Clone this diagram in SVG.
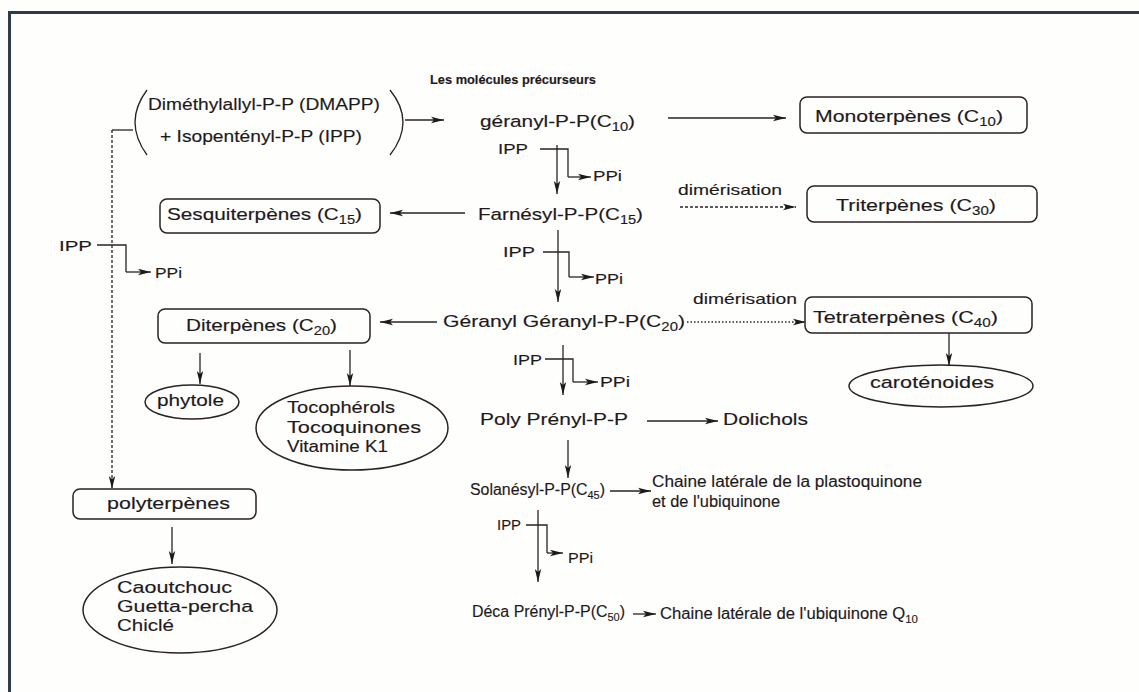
<svg xmlns="http://www.w3.org/2000/svg" width="1139" height="692" viewBox="0 0 1139 692">
<defs>
<marker id="ah" markerUnits="userSpaceOnUse" markerWidth="14" markerHeight="8" refX="13" refY="4" orient="auto">
<path d="M0,0.8 L13,4 L0,7.2 L3,4 Z" fill="#1e1a1c"/>
</marker>
<style>
text{font-family:"Liberation Sans",Arial,sans-serif;fill:#1e1a1c;font-size:17px;stroke:#1e1a1c;stroke-width:0.15}
.t{font-weight:bold;font-size:13px}
.s{font-size:15px}
.m{font-size:16px}
.box{fill:none;stroke:#2a2224;stroke-width:1.5}
.ln{fill:none;stroke:#2a2224;stroke-width:1.3}
.ar{fill:none;stroke:#2a2224;stroke-width:1.3;marker-end:url(#ah)}
.dash{stroke-dasharray:3 2}
.dot{stroke-dasharray:1.5 2}
</style>
</defs>
<rect x="0" y="0" width="1139" height="692" fill="#fefefc"/>
<rect x="9.5" y="12.5" width="1200" height="720" fill="none" stroke="#2f3a4b" stroke-width="3"/>

<text id="title" class="t" x="430" y="84" textLength="166" lengthAdjust="spacingAndGlyphs">Les molécules précurseurs</text>

<g id="precursors">
<path class="ln" d="M147,90 Q123,122 147,155"/>
<path class="ln" d="M390,90 Q416,122 390,155"/>
<text x="148" y="110" textLength="232" lengthAdjust="spacingAndGlyphs">Diméthylallyl-P-P (DMAPP)</text>
<text x="160" y="142" textLength="202" lengthAdjust="spacingAndGlyphs">+ Isopentényl-P-P (IPP)</text>
</g>

<g id="geranyl"><text x="480" y="127" textLength="155" lengthAdjust="spacingAndGlyphs">géranyl-P-P(C<tspan font-size="12" dy="4">10</tspan><tspan dy="-4">)</tspan></text></g>
<g id="monoterpenes"><rect class="box" x="800" y="97" width="227" height="36" rx="7"/><text x="815" y="122" textLength="188" lengthAdjust="spacingAndGlyphs">Monoterpènes (C<tspan font-size="12" dy="4">10</tspan><tspan dy="-4">)</tspan></text></g>
<g id="farnesyl"><text x="478" y="220" textLength="165" lengthAdjust="spacingAndGlyphs">Farnésyl-P-P(C<tspan font-size="12" dy="4">15</tspan><tspan dy="-4">)</tspan></text></g>
<g id="sesquiterpenes"><rect class="box" x="160" y="199" width="220" height="34" rx="7"/><text x="167" y="220" textLength="195" lengthAdjust="spacingAndGlyphs">Sesquiterpènes (C<tspan font-size="12" dy="4">15</tspan><tspan dy="-4">)</tspan></text></g>
<g id="triterpenes"><rect class="box" x="807" y="186" width="230" height="36" rx="7"/><text x="836" y="211" textLength="160" lengthAdjust="spacingAndGlyphs">Triterpènes (C<tspan font-size="12" dy="4">30</tspan><tspan dy="-4">)</tspan></text></g>
<g id="ggpp"><text x="443" y="327" textLength="242" lengthAdjust="spacingAndGlyphs">Géranyl Géranyl-P-P(C<tspan font-size="12" dy="4">20</tspan><tspan dy="-4">)</tspan></text></g>
<g id="diterpenes"><rect class="box" x="158" y="309" width="212" height="34" rx="7"/><text x="186" y="331" textLength="151" lengthAdjust="spacingAndGlyphs">Diterpènes (C<tspan font-size="12" dy="4">20</tspan><tspan dy="-4">)</tspan></text></g>
<g id="tetraterpenes"><rect class="box" x="805" y="297" width="227" height="36" rx="7"/><text x="813" y="323" textLength="185" lengthAdjust="spacingAndGlyphs">Tetraterpènes (C<tspan font-size="12" dy="4">40</tspan><tspan dy="-4">)</tspan></text></g>
<g id="carotenoides"><ellipse class="box" cx="941" cy="386" rx="92" ry="21"/><text x="870" y="388" textLength="124" lengthAdjust="spacingAndGlyphs">caroténoides</text></g>
<g id="phytole"><ellipse class="box" cx="192" cy="402" rx="47" ry="17"/><text x="157" y="406" textLength="67" lengthAdjust="spacingAndGlyphs">phytole</text></g>
<g id="tocopherols"><ellipse class="box" cx="352" cy="428" rx="96" ry="42"/>
<text x="287" y="413" textLength="108" lengthAdjust="spacingAndGlyphs">Tocophérols</text>
<text x="287" y="433" textLength="134" lengthAdjust="spacingAndGlyphs">Tocoquinones</text>
<text x="287" y="452" textLength="101" lengthAdjust="spacingAndGlyphs">Vitamine K1</text></g>
<g id="polyprenyl"><text x="480" y="425" textLength="148" lengthAdjust="spacingAndGlyphs">Poly Prényl-P-P</text></g>
<g id="dolichols"><text x="723" y="425" textLength="85" lengthAdjust="spacingAndGlyphs">Dolichols</text></g>
<g id="solanesyl"><text class="m" x="470" y="495" textLength="135" lengthAdjust="spacingAndGlyphs">Solanésyl-P-P(C<tspan font-size="11" dy="4">45</tspan><tspan dy="-4">)</tspan></text></g>
<g id="chaine1"><text class="m" x="652" y="487" textLength="270" lengthAdjust="spacingAndGlyphs">Chaine latérale de la plastoquinone</text>
<text class="m" x="652" y="507" textLength="128" lengthAdjust="spacingAndGlyphs">et de l'ubiquinone</text></g>
<g id="decaprenyl"><text class="m" x="472" y="617" textLength="153" lengthAdjust="spacingAndGlyphs">Déca Prényl-P-P(C<tspan font-size="11" dy="4">50</tspan><tspan dy="-4">)</tspan></text></g>
<g id="chaine2"><text class="m" x="660" y="619" textLength="258" lengthAdjust="spacingAndGlyphs">Chaine latérale de l'ubiquinone Q<tspan font-size="11" dy="4">10</tspan></text></g>
<g id="polyterpenes"><rect class="box" x="73" y="489" width="183" height="30" rx="7"/><text x="107" y="509" textLength="123" lengthAdjust="spacingAndGlyphs">polyterpènes</text></g>
<g id="caoutchouc"><ellipse class="box" cx="180" cy="610" rx="97" ry="43"/>
<text x="117" y="593" textLength="115" lengthAdjust="spacingAndGlyphs">Caoutchouc</text>
<text x="117" y="612" textLength="136" lengthAdjust="spacingAndGlyphs">Guetta-percha</text>
<text x="117" y="631" textLength="57" lengthAdjust="spacingAndGlyphs">Chiclé</text></g>

<g id="labels">
<text class="s" x="678" y="195" textLength="104" lengthAdjust="spacingAndGlyphs">dimérisation</text>
<text class="s" x="693" y="304" textLength="104" lengthAdjust="spacingAndGlyphs">dimérisation</text>
<text class="s" x="498" y="154" textLength="30" lengthAdjust="spacingAndGlyphs">IPP</text>
<text class="s" x="593" y="181" textLength="29" lengthAdjust="spacingAndGlyphs">PPi</text>
<text class="s" x="503" y="257" textLength="32" lengthAdjust="spacingAndGlyphs">IPP</text>
<text class="s" x="595" y="284" textLength="28" lengthAdjust="spacingAndGlyphs">PPi</text>
<text class="s" x="513" y="365" textLength="29" lengthAdjust="spacingAndGlyphs">IPP</text>
<text class="s" x="600" y="387" textLength="30" lengthAdjust="spacingAndGlyphs">PPi</text>
<text class="s" x="497" y="530" textLength="24" lengthAdjust="spacingAndGlyphs">IPP</text>
<text class="s" x="568" y="563" textLength="25" lengthAdjust="spacingAndGlyphs">PPi</text>
<text class="s" x="59" y="251" textLength="33" lengthAdjust="spacingAndGlyphs">IPP</text>
<text class="s" x="155" y="278" textLength="27" lengthAdjust="spacingAndGlyphs">PPi</text>
</g>

<g id="connectors">
<path class="ar" d="M405,120 H444"/>
<path class="ar" d="M668,118 H786"/>
<path class="ln" d="M540,149 H568 V177"/>
<path class="ar" d="M568,177 H591"/>
<path class="ar" d="M557,145 V194"/>
<path class="ar" d="M465,213 H390"/>
<path class="ar dash" d="M680,207 H796"/>
<path class="ln" d="M543,252 H569 V277"/>
<path class="ar" d="M569,277 H594"/>
<path class="ar" d="M558,230 V302"/>
<path class="ar" d="M437,322 H380"/>
<path class="ar dot" d="M687,322 H806"/>
<path class="ar" d="M949,333 V366"/>
<path class="ar" d="M200,353 V384"/>
<path class="ar" d="M350,350 V386"/>
<path class="ln" d="M545,359 H573 V382"/>
<path class="ar" d="M573,382 H598"/>
<path class="ar" d="M563,345 V395"/>
<path class="ar" d="M647,421 H718"/>
<path class="ar" d="M568,440 V478"/>
<path class="ar" d="M610,491 H651"/>
<path class="ln" d="M526,525 H547 V553"/>
<path class="ar" d="M547,553 H563"/>
<path class="ar" d="M538,510 V582"/>
<path class="ar" d="M633,614 H656"/>
<path class="ln" d="M133,130 H112"/>
<path class="ar dash" d="M112,130 V489"/>
<path class="ln" d="M97,245 H126 V272"/>
<path class="ar" d="M126,272 H151"/>
<path class="ar" d="M172,527 V564"/>
</g>
</svg>
